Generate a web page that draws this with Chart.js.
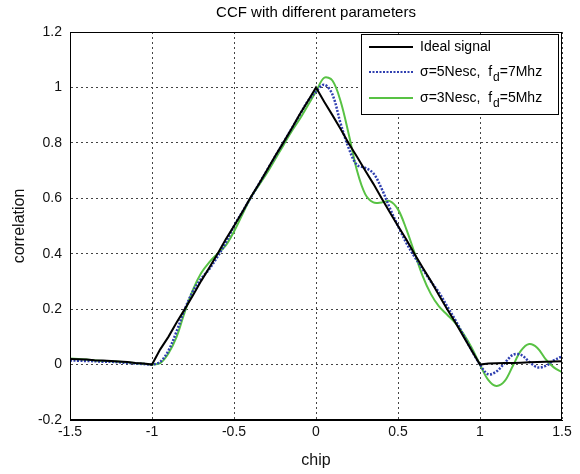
<!DOCTYPE html>
<html><head><meta charset="utf-8">
<script src="https://cdn.jsdelivr.net/npm/chart.js@4"></script>
<style>html,body{margin:0;padding:0;background:#fff}</style>
</head><body>
<canvas id="c" width="580" height="474" style="width:580px;height:474px;display:block"></canvas>
<script>
const chartTitle = "CCF with different parameters";
const xTitle = "chip";
const yTitle = "correlation";
const chip = [-1.5,-1.45,-1.4,-1.35,-1.3,-1.25,-1.2,-1.15,-1.1,-1.05,-1.0,-0.95,-0.9,-0.85,-0.8,-0.75,-0.7,-0.65,-0.6,-0.55,-0.5,-0.45,-0.4,-0.35,-0.3,-0.25,-0.2,-0.15,-0.1,-0.05,0,0.05,0.1,0.15,0.2,0.25,0.3,0.35,0.4,0.45,0.5,0.55,0.6,0.65,0.7,0.75,0.8,0.85,0.9,0.95,1.0,1.05,1.1,1.15,1.2,1.25,1.3,1.35,1.4,1.45,1.5];
const ideal = [0.02,0.019,0.018,0.016,0.015,0.013,0.011,0.009,0.006,0.004,0.0,0.055,0.1,0.152,0.2,0.25,0.302,0.35,0.4,0.452,0.5,0.55,0.602,0.65,0.7,0.752,0.8,0.85,0.902,0.95,1.0,0.948,0.9,0.85,0.798,0.75,0.7,0.652,0.6,0.55,0.5,0.452,0.4,0.35,0.302,0.25,0.2,0.152,0.1,0.05,0.0,0.004,0.005,0.006,0.006,0.007,0.008,0.009,0.01,0.011,0.012];
const sigma5 = [0.015,0.014,0.013,0.012,0.01,0.01,0.008,0.006,0.004,0.002,0.0,0.01,0.05,0.12,0.2,0.265,0.31,0.345,0.39,0.44,0.5,0.55,0.6,0.65,0.7,0.75,0.8,0.85,0.9,0.95,0.985,1.01,0.975,0.87,0.78,0.72,0.71,0.69,0.635,0.565,0.5,0.44,0.39,0.345,0.3,0.26,0.21,0.16,0.105,0.05,0.0,-0.035,-0.025,0.005,0.035,0.035,0.01,-0.01,-0.005,0.015,0.03];
const sigma3 = [0.022,0.02,0.018,0.015,0.013,0.012,0.01,0.008,0.005,0.003,0.0,0.005,0.04,0.1,0.19,0.27,0.33,0.37,0.4,0.43,0.48,0.54,0.6,0.645,0.69,0.74,0.79,0.84,0.885,0.935,0.985,1.035,1.025,0.95,0.83,0.7,0.615,0.585,0.585,0.59,0.56,0.49,0.405,0.32,0.255,0.21,0.18,0.15,0.11,0.06,0.0,-0.055,-0.077,-0.06,-0.005,0.05,0.074,0.06,0.02,-0.01,-0.027];
const xTicks = [-1.5,-1,-0.5,0,0.5,1,1.5];
const yTicks = [-0.2,0,0.2,0.4,0.6,0.8,1,1.2];
const seriesNames = ["Ideal signal", "σ=5Nesc,  f|d|=7Mhz", "σ=3Nesc,  f|d|=5Mhz"];
const seriesColors = ["#000000", "#2f3fb0", "#58c244"];

const FONT = "'Liberation Sans', Arial, sans-serif";
const pts = arr => arr.map((v, i) => ({x: chip[i], y: v}));

const frameAndText = {
  id: 'frameAndText',
  afterDatasetsDraw(chart) {
    const ctx = chart.ctx, a = chart.chartArea;
    ctx.save();
    ctx.strokeStyle = '#000'; ctx.lineWidth = 1;
    ctx.strokeRect(a.left + 0.5, a.top + 0.5, a.right - a.left - 1, a.bottom - a.top - 1);
    // legend box
    const lx = 361, ly = 34, lw = 197, lh = 80;
    ctx.fillStyle = '#fff';
    ctx.fillRect(lx, ly, lw, lh);
    ctx.strokeRect(lx + 0.5, ly + 0.5, lw, lh);
    const rows = [47, 72, 98];
    seriesNames.forEach((name, i) => {
      const y = rows[i];
      ctx.beginPath();
      ctx.strokeStyle = seriesColors[i];
      ctx.lineWidth = 2;
      ctx.setLineDash(i === 1 ? [2, 1.5] : []);
      ctx.moveTo(369, y); ctx.lineTo(413, y); ctx.stroke();
      ctx.setLineDash([]);
      ctx.fillStyle = '#000';
      ctx.textBaseline = 'middle';
      ctx.textAlign = 'left';
      const parts = name.split('|');
      let x = 420;
      parts.forEach((p, k) => {
        if (k === 1) {
          ctx.font = '12px ' + FONT;
          ctx.fillText(p, x + 1, y + 6);
          x += ctx.measureText(p).width + 1;
        } else {
          ctx.font = '14px ' + FONT;
          ctx.fillText(p, x, y);
          x += ctx.measureText(p).width;
        }
      });
    });
    // title
    ctx.fillStyle = '#000';
    ctx.font = '15px ' + FONT;
    ctx.textAlign = 'center';
    ctx.textBaseline = 'middle';
    ctx.fillText(chartTitle, (a.left + a.right) / 2, 13);
    ctx.restore();
  }
};

new Chart(document.getElementById('c'), {
  type: 'line',
  data: {
    datasets: [
      {label: seriesNames[0], data: pts(ideal), borderColor: seriesColors[0], borderWidth: 2, tension: 0, pointRadius: 0},
      {label: seriesNames[1], data: pts(sigma5), borderColor: seriesColors[1], borderWidth: 2.5, borderDash: [2, 1.5], tension: 0.35, pointRadius: 0},
      {label: seriesNames[2], data: pts(sigma3), borderColor: seriesColors[2], borderWidth: 2, tension: 0.35, pointRadius: 0}
    ]
  },
  options: {
    responsive: false,
    animation: false,
    layout: {padding: {top: 32, right: 18, left: 0, bottom: 0}},
    plugins: {legend: {display: false}, tooltip: {enabled: false}, title: {display: false}},
    scales: {
      x: {
        type: 'linear', min: -1.5, max: 1.5,
        afterBuildTicks: s => { s.ticks = xTicks.map(v => ({value: v})); },
        afterFit: s => { s.height = 54; },
        grid: {color: '#444', lineWidth: 1, drawTicks: false},
        border: {display: true, color: '#000', width: 1, dash: [2, 3]},
        ticks: {color: '#111', font: {family: FONT, size: 14}, padding: 4, maxRotation: 0, callback: v => String(v)},
        title: {display: true, text: xTitle, color: '#111', font: {family: FONT, size: 16}, padding: {top: 0, bottom: 4}}
      },
      y: {
        type: 'linear', min: -0.2, max: 1.2,
        afterBuildTicks: s => { s.ticks = yTicks.map(v => ({value: v})); },
        afterFit: s => { s.width = 70; },
        grid: {color: '#444', lineWidth: 1, drawTicks: false},
        border: {display: true, color: '#000', width: 1, dash: [2, 3]},
        ticks: {color: '#111', font: {family: FONT, size: 14}, padding: 8, callback: v => String(v)},
        title: {display: true, text: yTitle, color: '#111', font: {family: FONT, size: 16}, padding: {top: 10, bottom: 0}}
      }
    }
  },
  plugins: [frameAndText]
});
</script>
</body></html>
